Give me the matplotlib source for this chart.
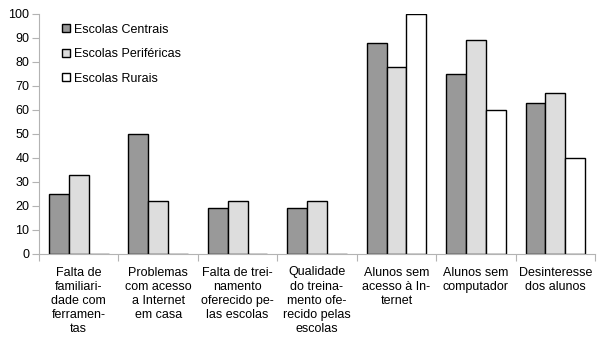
import matplotlib.pyplot as plt
import numpy as np

plt.rcParams['font.family'] = ['Liberation Sans', 'DejaVu Sans']

categorias = ["Falta de\nfamiliari-\ndade com\nferramen-\ntas",
              "Problemas\ncom acesso\na Internet\nem casa",
              "Falta de trei-\nnamento\noferecido pe-\nlas escolas",
              "Qualidade\ndo treina-\nmento ofe-\nrecido pelas\nescolas",
              "Alunos sem\nacesso à In-\nternet",
              "Alunos sem\ncomputador",
              "Desinteresse\ndos alunos"]
centrais = [25, 50, 19, 19, 88, 75, 63]
perifericas = [33, 22, 22, 22, 78, 89, 67]
rurais = [0, 0, 0, 0, 100, 60, 40]
series = ["Escolas Centrais", "Escolas Periféricas", "Escolas Rurais"]
cores = ['#999999', '#dddddd', '#ffffff']

fig = plt.figure(figsize=(6.06, 3.41), dpi=100)
ax = fig.add_axes([39/606, 1 - 254/341, (595 - 39)/606, (254 - 14)/341])

x = np.arange(len(categorias))
w = 0.25
for k, vals in enumerate([centrais, perifericas, rurais]):
    ax.bar(x + (k - 1) * w, vals, w, color=cores[k], edgecolor='black',
           linewidth=1.0, label=series[k])

ax.set_xlim(-0.5, len(categorias) - 0.5)
ax.set_ylim(0, 100)
ax.set_yticks(range(0, 101, 10))

ax.set_xticks(np.arange(-0.5, len(categorias), 1.0))
ax.set_xticklabels([])
ax.set_xticks(x, minor=True)
ax.set_xticklabels(categorias, minor=True, fontsize=9, linespacing=1.25,
                   va='top', ha='center')
ax.tick_params(axis='x', which='minor', length=0, pad=9)
ax.tick_params(axis='x', which='major', length=5, color='#b3b3b3')
ax.tick_params(axis='y', length=5, color='#b3b3b3', labelsize=9, pad=2)

for s in ['top', 'right']:
    ax.spines[s].set_visible(False)
for s in ['left', 'bottom']:
    ax.spines[s].set_color('#b3b3b3')

ax.legend(loc='upper left', bbox_to_anchor=(18/556, 0.98), frameon=False,
          fontsize=9, handlelength=0.6, handleheight=0.6, handletextpad=0.4,
          labelspacing=1.0, borderaxespad=0)

plt.savefig('out.png', dpi=100)
